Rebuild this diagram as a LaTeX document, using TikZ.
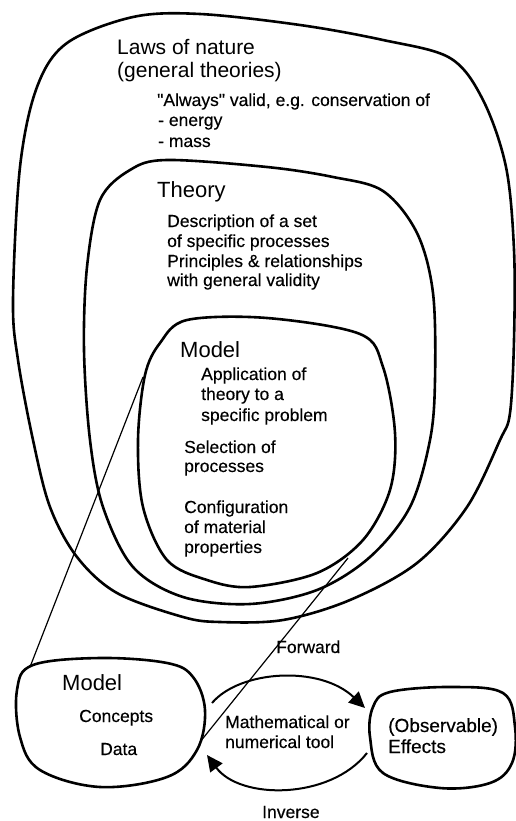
\documentclass[tikz,border=0pt]{standalone}
\usepackage{fontspec}
\setmainfont{Liberation Sans}
\newfontfamily\semibf[FakeBold=0.35]{Liberation Sans}
\usetikzlibrary{arrows.meta}
\begin{document}
\begin{tikzpicture}[x=1pt,y=-1pt,
  blob/.style={line width=2.6pt, line join=round},
  thinline/.style={line width=1.2pt},
  arcline/.style={line width=2pt, -{Triangle[length=16pt,width=15pt]}},
  big/.style={anchor=base west, inner sep=0pt, font=\fontsize{22}{24}\selectfont},
  small/.style={anchor=base west, inner sep=0pt, font=\semibf\fontsize{17.5}{20}\selectfont},
  mid/.style={anchor=base west, inner sep=0pt, font=\semibf\fontsize{19}{21}\selectfont}]
\useasboundingbox (0,0) rectangle (516,821);
% outer blob: laws of nature
\draw[blob] plot[smooth cycle, tension=0.55] coordinates {
 (133,17) (200,14) (300,25) (383,40) (450,58) (483,100) (506,167) (514,250)
 (514,340) (510,413) (500,440) (467,507) (417,563) (350,600) (283,620)
 (220,622) (183,617) (117,593) (77,557) (50,507) (33,440) (18,360) (13,300)
 (20,167) (37,87) (67,43)};
% theory blob
\draw[blob] plot[smooth cycle, tension=0.55] coordinates {
 (167,160) (267,167) (333,177) (383,191) (417,233) (433,293) (435,380)
 (430,440) (410,507) (370,557) (317,590) (250,604) (183,597) (133,567)
 (103,507) (90,440) (84,350) (87,267) (100,200) (130,170)};
% inner model blob
\draw[blob] plot[smooth cycle, tension=0.55] coordinates {
 (187,320) (267,318) (360,334) (383,367) (395,433) (390,490) (363,540)
 (317,573) (250,587) (207,580) (167,560) (143,507) (138,440) (145,375)
 (160,343)};
% bottom-left model blob
\draw[blob] plot[smooth cycle, tension=0.6] coordinates {
 (100,658) (167,663) (193,677) (205,710) (197,750) (167,777) (100,787)
 (40,770) (20,737) (17,690) (33,665)};
% effects blob
\draw[blob] plot[smooth cycle, tension=0.6] coordinates {
 (450,687) (503,693) (515,727) (512,763) (490,783) (440,788) (383,773)
 (370,737) (373,707) (390,692)};
% connector end points
\coordinate (ma) at (143,377);
\coordinate (mb) at (30,667);
\coordinate (mc) at (348,558);
\coordinate (md) at (200,742);
\coordinate (fs) at (212,703);
\coordinate (fe) at (365,708);
\coordinate (is) at (367,753);
\coordinate (ie) at (207,755);
\draw[thinline] (ma) -- (mb);
\draw[thinline] (mc) -- (md);
\draw[arcline] (fs) .. controls (240,670) and (320,665) .. (fe);
\draw[arcline] (is) .. controls (330,800) and (240,800) .. (ie);
% texts
\node[big, font=\fontsize{21}{24}\selectfont] (l1) at (117,55) {Laws of nature};
\node[big, font=\fontsize{21}{24}\selectfont] (l2) at (117,78) {(general theories)};
\node[small] (l3) at (157,106) {\char34 Always\char34\ valid, e.g. conservation of};
\node[small] (l4) at (158,126) {- energy};
\node[small] (l5) at (158,147) {- mass};
\node[big] (t1) at (157,197) {Theory};
\node[small] (t2) at (167,227) {Description of a set};
\node[small] (t3) at (167,247) {of specific processes};
\node[small] (t4) at (167,267) {Principles \& relationships};
\node[small] (t5) at (167,286) {with general validity};
\node[big] (m1) at (180,357) {Model};
\node[small] (m2) at (201,380) {Application of};
\node[small] (m3) at (201,400) {theory to a};
\node[small] (m4) at (201,421) {specific problem};
\node[small] (m5) at (184,453) {Selection of};
\node[small] (m6) at (184,472) {processes};
\node[small] (m7) at (184,513) {Configuration};
\node[small] (m8) at (184,533) {of material};
\node[small] (m9) at (184,553) {properties};
\node[small] (fw) at (276,653) {Forward};
\node[big] (b1) at (62,690) {Model};
\node[small] (b2) at (79,722) {Concepts};
\node[small] (b3) at (100,755) {Data};
\node[small] (k1) at (225,728) {Mathematical or};
\node[small] (k2) at (225,748) {numerical tool};
\node[mid] (e1) at (388,732) {(Observable)};
\node[mid] (e2) at (388,753) {Effects};
\node[small] (iv) at (262,818) {Inverse};
\end{tikzpicture}
\end{document}
